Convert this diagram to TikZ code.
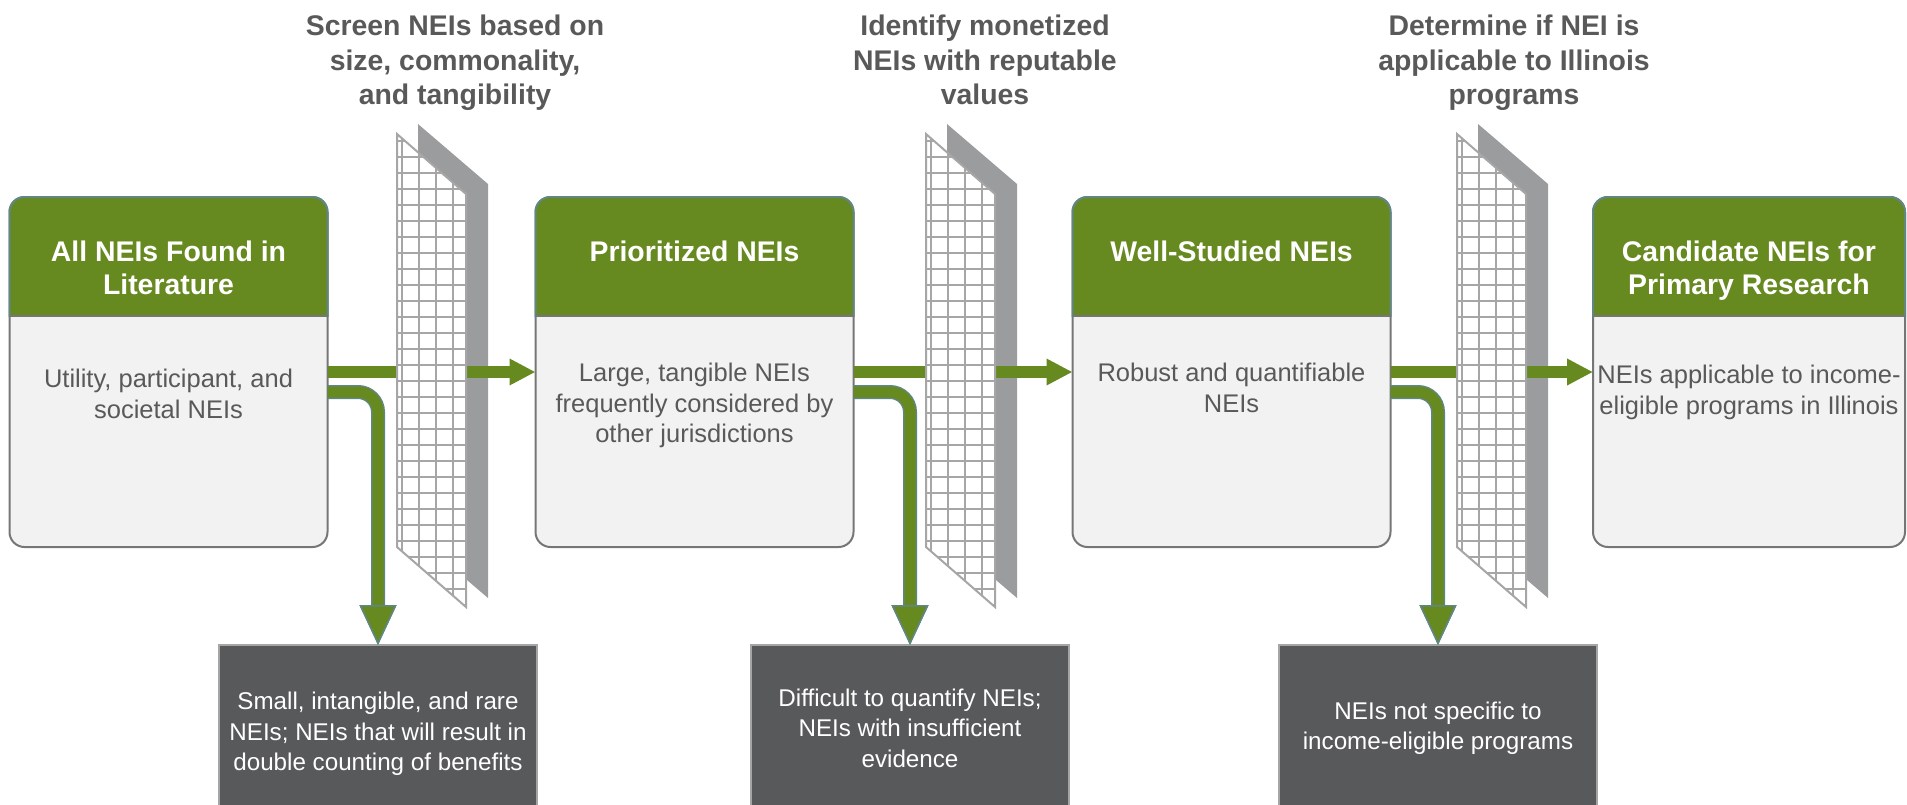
\documentclass[tikz,border=0pt]{standalone}
\usepackage{fontspec}
\setmainfont{Liberation Sans}
\usepackage{tikz}
\usetikzlibrary{positioning,arrows.meta}

\definecolor{neigreen}{RGB}{102,137,32}
\definecolor{hdredge}{RGB}{96,135,130}
\definecolor{bodyfill}{RGB}{242,242,242}
\definecolor{bodyedge}{RGB}{118,118,118}
\definecolor{textgray}{RGB}{89,89,89}
\definecolor{dropfill}{RGB}{88,89,91}
\definecolor{dropedge}{RGB}{165,165,165}
\definecolor{panelgray}{RGB}{155,156,158}
\definecolor{gridgray}{RGB}{166,166,166}

\begin{document}
\begin{tikzpicture}[x=0.5pt, y=-0.5pt,
  neibox/.style={draw=bodyedge, fill=bodyfill, line width=1pt, rounded corners=7.5pt,
    minimum width=159pt, minimum height=175pt, outer sep=0pt, inner sep=0pt},
  hdrtext/.style={text=white, font=\fontsize{14.2pt}{16.5pt}\selectfont\bfseries,
    align=center, inner sep=0pt},
  bodytext/.style={text=textgray, font=\fontsize{12.75pt}{15.25pt}\selectfont,
    align=center, inner sep=0pt},
  outbox/.style={fill=dropfill, draw=dropedge, line width=0.75pt, minimum width=159pt,
    minimum height=83pt, outer sep=0pt, text=white,
    font=\fontsize{12.1pt}{15.2pt}\selectfont, align=center},
  steptitle/.style={text=textgray, font=\fontsize{14.2pt}{17.2pt}\selectfont\bfseries,
    align=center, anchor=north, inner sep=0pt},
  mainarrow/.style={draw=neigreen, line width=6.25pt, -{Triangle[length=13pt,width=12.5pt]}},
  droparrow/.style={draw=neigreen, line width=5.5pt, rounded corners=10pt,
    preaction={draw=hdredge, line width=7pt},
    -{Triangle[length=20pt,width=18.5pt,color=hdredge,fill=neigreen,line width=0.75pt]}},
  gridline/.style={draw=gridgray, line width=0.75pt}
]
\useasboundingbox (0,0) rectangle (1907,804);

% Stage boxes
\node[neibox] (lit) at (168.5,372) {};
\node[neibox] (prio) at (694.5,372) {};
\node[neibox] (well) at (1231.5,372) {};
\node[neibox, minimum width=156pt] (cand) at (1749,372) {};

% Green headers
\foreach \b in {lit,prio,well,cand} {
  \begin{scope}
    \clip ([xshift=-2pt,yshift=2pt]\b.north west) rectangle ([xshift=2pt,yshift=-59.5pt]\b.north east);
    \filldraw[fill=neigreen, draw=hdredge, line width=1pt, rounded corners=7.5pt]
      (\b.north west) rectangle (\b.south east);
  \end{scope}
  \draw[bodyedge, line width=1pt] ([yshift=-59.5pt]\b.north west) -- ([yshift=-59.5pt]\b.north east);
}

\node[hdrtext, below=22pt of lit.north] (lithd) {All NEIs Found in\\Literature};
\node[hdrtext, below=22pt of prio.north] (priohd) {Prioritized NEIs};
\node[hdrtext, below=22pt of well.north] (wellhd) {Well-Studied NEIs};
\node[hdrtext, below=22pt of cand.north] (candhd) {Candidate NEIs for\\Primary Research};

\node[bodytext, below=86pt of lit.north] (littx) {Utility, participant, and\\societal NEIs};
\node[bodytext, below=83pt of prio.north] (priotx) {Large, tangible NEIs\\frequently considered by\\other jurisdictions};
\node[bodytext, below=83pt of well.north] (welltx) {Robust and quantifiable\\NEIs};
\node[bodytext, below=84pt of cand.north] (candtx) {NEIs applicable to income-\\eligible programs in Illinois};

% Screened-out boxes
\node[outbox, text height=45pt] (out1) at (378,728) {Small, intangible, and rare\\NEIs; NEIs that will result in\\double counting of benefits};
\node[outbox] (out2) at (910,728) {Difficult to quantify NEIs;\\NEIs with insufficient\\evidence};
\node[outbox] (out3) at (1438,728) {NEIs not specific to\\income-eligible programs};

% Screen titles
\node[steptitle] (scr) at (455,15) {Screen NEIs based on\\size, commonality,\\and tangibility};
\node[steptitle] (mon) at (985,15) {Identify monetized\\NEIs with reputable\\values};
\node[steptitle] (ill) at (1514,15) {Determine if NEI is\\applicable to Illinois\\programs};

% Filter back panels
\foreach \fx in {397,926,1457}
  \fill[panelgray] (\fx+21,124) -- (\fx+91,184) -- (\fx+91,598) -- (\fx+21,538) -- cycle;

% Passing NEIs
\draw[mainarrow] (lit) -- (prio);
\draw[mainarrow] (prio) -- (well);
\draw[mainarrow] (well) -- (cand);

% Filter grids
\foreach \fx in {397,926,1457} {
  \begin{scope}
    \clip (\fx,134) -- (\fx+69,194) -- (\fx+69,607) -- (\fx,547) -- cycle;
    \fill[white] (\fx,130) rectangle (\fx+70,610);
    \foreach \gx in {5,22,39,56}
      \draw[gridline] (\fx+\gx,130) -- (\fx+\gx,610);
    \foreach \gy in {141,157,...,605}
      \draw[gridline] (\fx,\gy) -- (\fx+70,\gy);
  \end{scope}
  \draw[gridline, line width=1pt] (\fx,134) -- (\fx+69,194) -- (\fx+69,607) -- (\fx,547) -- cycle;
}

% Screened-out NEIs
\draw[droparrow] ([yshift=-10pt]lit.east) -| (out1.north);
\draw[droparrow] ([yshift=-10pt]prio.east) -| (out2.north);
\draw[droparrow] ([yshift=-10pt]well.east) -| (out3.north);
\end{tikzpicture}
\end{document}
